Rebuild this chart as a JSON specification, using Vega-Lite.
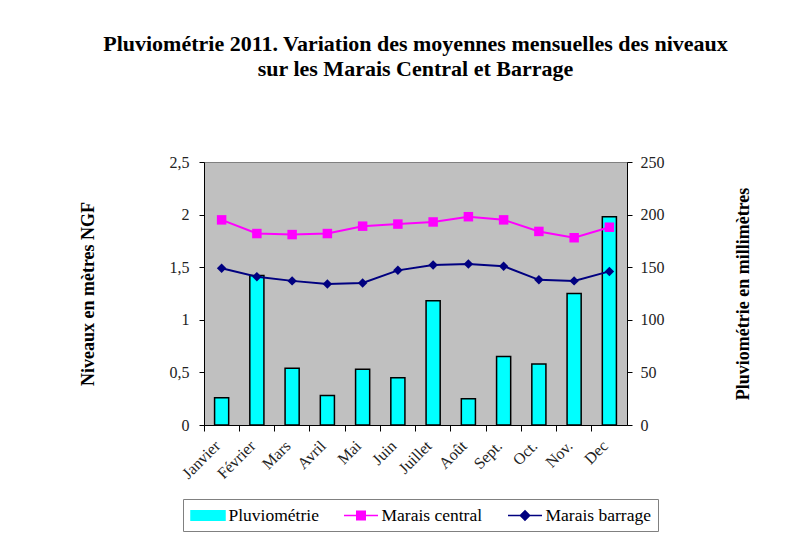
{
  "$schema": "https://vega.github.io/schema/vega-lite/v6.json",
  "width": 423,
  "height": 263,
  "autosize": {"type": "none"},
  "padding": {"left": 204, "top": 162, "right": 176, "bottom": 113},
  "background": "white",
  "config": {
    "view": {"fill": "#C0C0C0", "stroke": "#808080", "strokeWidth": 1},
    "font": "Liberation Serif",
    "axis": {
      "domainColor": "black", "tickColor": "black", "grid": false,
      "labelFont": "Liberation Serif", "labelFontSize": 16, "labelColor": "#222",
      "titleFont": "Liberation Serif", "titleFontSize": 18, "titleFontWeight": "bold", "titleColor": "black",
      "tickSize": 5, "domainWidth": 1
    }
  },
  "title": {
    "text": ["Pluviométrie 2011. Variation des moyennes mensuelles des niveaux", "sur les Marais Central et Barrage"],
    "font": "Liberation Serif", "fontSize": 22, "fontWeight": "bold", "color": "black",
    "anchor": "middle", "lineHeight": 25, "offset": 73
  },
  "data": {
    "values": [
      {"month": "Janvier", "pluvio": 26, "central": 1.95, "barrage": 1.49},
      {"month": "Février", "pluvio": 142, "central": 1.82, "barrage": 1.41},
      {"month": "Mars", "pluvio": 54, "central": 1.81, "barrage": 1.37},
      {"month": "Avril", "pluvio": 28, "central": 1.82, "barrage": 1.34},
      {"month": "Mai", "pluvio": 53, "central": 1.89, "barrage": 1.35},
      {"month": "Juin", "pluvio": 45, "central": 1.91, "barrage": 1.47},
      {"month": "Juillet", "pluvio": 118, "central": 1.93, "barrage": 1.52},
      {"month": "Août", "pluvio": 25, "central": 1.98, "barrage": 1.53},
      {"month": "Sept.", "pluvio": 65, "central": 1.95, "barrage": 1.51},
      {"month": "Oct.", "pluvio": 58, "central": 1.84, "barrage": 1.38},
      {"month": "Nov.", "pluvio": 125, "central": 1.78, "barrage": 1.37},
      {"month": "Dec", "pluvio": 198, "central": 1.88, "barrage": 1.46}
    ]
  },
  "encoding": {
    "x": {
      "field": "month", "type": "nominal", "sort": null,
      "scale": {"paddingInner": 0, "paddingOuter": 0},
      "axis": {"title": null, "labelAngle": -45, "labelAlign": "right", "labelBaseline": "middle", "bandPosition": 0, "labelPadding": 12, "labelOffset": -4, "tickSize": 6}
    }
  },
  "layer": [
    {
      "mark": {"type": "bar", "width": {"band": 0.4}, "stroke": "black", "strokeWidth": 1.5},
      "encoding": {
        "y": {"field": "pluvio", "type": "quantitative", "scale": {"domain": [0, 250]},
          "axis": {"orient": "right", "values": [0, 50, 100, 150, 200, 250], "title": "Pluviométrie en millimètres", "titleAngle": -90, "titlePadding": 88, "labelPadding": 8}},
        "color": {"datum": "Pluviométrie", "type": "nominal",
          "scale": {"domain": ["Pluviométrie", "Marais central", "Marais barrage"], "range": ["#00FFFF", "#FF00FF", "#000080"]},
          "legend": {
            "orient": "none", "legendX": -21, "legendY": 337, "direction": "horizontal", "title": null,
            "strokeColor": "#808080", "padding": 7, "columnPadding": 22,
            "labelFont": "Liberation Serif", "labelFontSize": 17.5, "labelColor": "black", "labelOffset": 11,
            "symbolSize": 289, "symbolOffset": 8.5, "symbolStrokeWidth": 1.5,
            "encode": {"symbols": {"update": {
              "shape": {"signal": "datum.value === 'Pluviométrie' ? 'M-2,-0.55H2V0.55H-2Z' : datum.value === 'Marais central' ? 'M-2,0H2M-0.5,-0.5H0.5V0.5H-0.5Z' : 'M-2,0H2M0,-0.55L0.55,0L0,0.55L-0.55,0Z'"},
              "strokeWidth": {"value": 1.5}, "fillOpacity": {"value": 1}, "strokeOpacity": {"value": 1}, "opacity": {"value": 1}
            }}}
          }
        }
      }
    },
    {
      "mark": {"type": "line", "strokeWidth": 2, "point": {"shape": "square", "size": 90, "filled": true, "opacity": 1}},
      "encoding": {
        "y": {"field": "central", "type": "quantitative", "scale": {"domain": [0, 2.5]},
          "axis": {"orient": "left", "values": [0, 0.5, 1, 1.5, 2, 2.5], "title": "Niveaux en mètres NGF", "titlePadding": 72, "labelPadding": 10,
            "labelExpr": "replace(format(datum.value, '~g'), '.', ',')"}},
        "color": {"datum": "Marais central", "type": "nominal",
          "legend": {
            "orient": "none", "legendX": -21, "legendY": 337, "direction": "horizontal", "title": null,
            "strokeColor": "#808080", "padding": 7, "columnPadding": 22,
            "labelFont": "Liberation Serif", "labelFontSize": 17.5, "labelColor": "black", "labelOffset": 11,
            "symbolSize": 289, "symbolOffset": 8.5, "symbolStrokeWidth": 1.5,
            "encode": {"symbols": {"update": {
              "shape": {"signal": "datum.value === 'Pluviométrie' ? 'M-2,-0.55H2V0.55H-2Z' : datum.value === 'Marais central' ? 'M-2,0H2M-0.5,-0.5H0.5V0.5H-0.5Z' : 'M-2,0H2M0,-0.55L0.55,0L0,0.55L-0.55,0Z'"},
              "strokeWidth": {"value": 1.5}, "fillOpacity": {"value": 1}, "strokeOpacity": {"value": 1}, "opacity": {"value": 1}
            }}}
          }
        }
      }
    },
    {
      "mark": {"type": "line", "strokeWidth": 2, "point": {"shape": "diamond", "size": 90, "filled": true, "opacity": 1}},
      "encoding": {
        "y": {"field": "barrage", "type": "quantitative", "scale": {"domain": [0, 2.5]}, "axis": null},
        "color": {"datum": "Marais barrage", "type": "nominal",
          "legend": {
            "orient": "none", "legendX": -21, "legendY": 337, "direction": "horizontal", "title": null,
            "strokeColor": "#808080", "padding": 7, "columnPadding": 22,
            "labelFont": "Liberation Serif", "labelFontSize": 17.5, "labelColor": "black", "labelOffset": 11,
            "symbolSize": 289, "symbolOffset": 8.5, "symbolStrokeWidth": 1.5,
            "encode": {"symbols": {"update": {
              "shape": {"signal": "datum.value === 'Pluviométrie' ? 'M-2,-0.55H2V0.55H-2Z' : datum.value === 'Marais central' ? 'M-2,0H2M-0.5,-0.5H0.5V0.5H-0.5Z' : 'M-2,0H2M0,-0.55L0.55,0L0,0.55L-0.55,0Z'"},
              "strokeWidth": {"value": 1.5}, "fillOpacity": {"value": 1}, "strokeOpacity": {"value": 1}, "opacity": {"value": 1}
            }}}
          }
        }
      }
    }
  ],
  "resolve": {"scale": {"y": "independent"}}
}
